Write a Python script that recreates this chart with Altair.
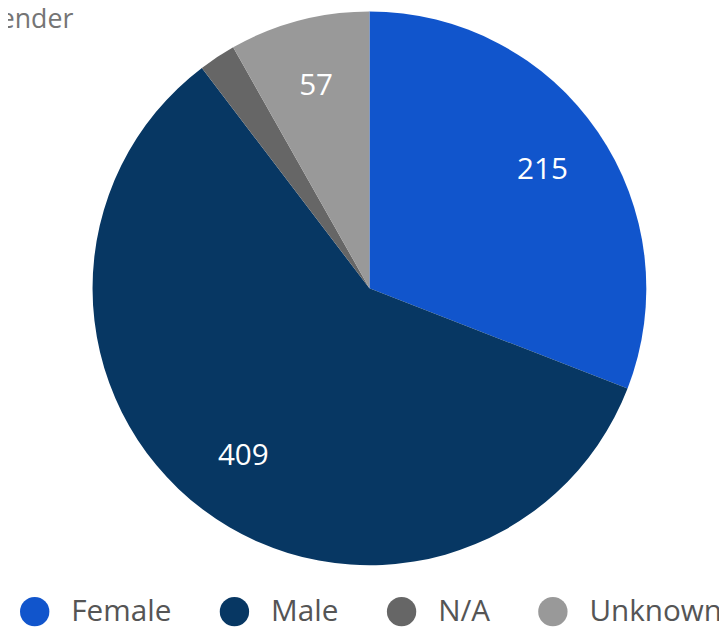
import altair as alt
import pandas as pd

categories = ["Female", "Male", "N/A", "Unknown"]
values = [215, 409, 15, 57]
order_idx = [0, 1, 2, 3]
colors = ["#1155cc", "#073763", "#666666", "#999999"]

df = pd.DataFrame({"gender": categories, "count": values, "ord": order_idx})
df["label"] = [str(v) if v >= 30 else "" for v in values]

base = alt.Chart(df).encode(
    theta=alt.Theta("count:Q", stack=True),
    order=alt.Order("ord:Q"),
)

pie = base.mark_arc(outerRadius=280).encode(
    color=alt.Color(
        "gender:N",
        scale=alt.Scale(domain=categories, range=colors),
        sort=categories,
        legend=alt.Legend(
            title=None,
            orient="bottom",
            direction="horizontal",
            symbolType="circle",
            symbolSize=880,
            symbolStrokeWidth=0,
            labelFont="Open Sans",
            labelFontSize=30,
            labelColor="#555555",
            labelOffset=22,
            columnPadding=48,
            offset=32,
        ),
    )
)

text = base.mark_text(
    radius=212, font="Open Sans", fontSize=30, color="white"
).encode(text="label:N")

chart = (
    (pie + text)
    .properties(
        width=707,
        height=560,
        autosize=alt.AutoSizeParams(type="none"),
        padding={"left": 12, "top": 0, "right": 0, "bottom": 62},
        title=alt.TitleParams(
            "Gender",
            anchor="start",
            frame="group",
            font="Open Sans",
            fontSize=27,
            fontWeight="normal",
            color="#757575",
            dx=-40,
            dy=27,
        ),
    )
    .configure_view(stroke=None)
)

chart.save("out.html", embed_options={"renderer": "svg", "actions": False})
